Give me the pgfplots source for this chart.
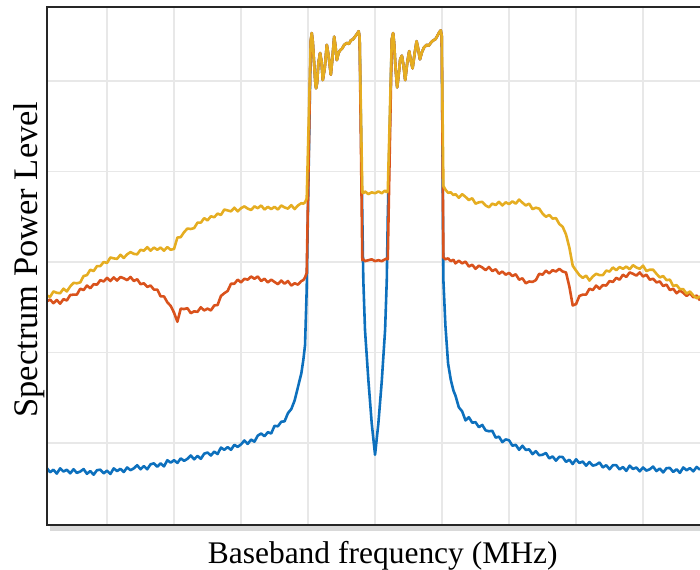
\documentclass[border=0pt]{standalone}
\usepackage{fontspec}
\setmainfont{Liberation Serif}
\usepackage{pgfplots}
\usepackage{pgfplotstable}
\pgfplotsset{compat=1.18}
\definecolor{mblue}{rgb}{0.05,0.44,0.74}
\definecolor{morange}{rgb}{0.85,0.32,0.11}
\definecolor{myellow}{rgb}{0.90,0.68,0.13}
\pgfplotstableread{
x b o yl
-49 -72.75 -54.35 -53.7
-48.5 -73.23 -54.15 -53.85
-48 -72.95 -54.55 -53.25
-47.5 -73.38 -54.2 -53.4
-47 -72.8 -54.6 -53.45
-46.5 -73.15 -54.1 -52.95
-46 -72.95 -54.25 -53.25
-45.5 -73.35 -53.65 -52.7
-45 -72.9 -53.6 -52.3
-44.5 -73.3 -53.6 -52.35
-44 -73.15 -52.95 -52.25
-43.5 -72.88 -53.1 -51.55
-43 -73.4 -52.6 -51.45
-42.5 -73.1 -52.9 -50.85
-42 -73.5 -52.45 -51.0
-41.5 -73.0 -52.5 -50.45
-41 -72.95 -52.0 -50.45
-40.5 -73.35 -52.15 -50.0
-40 -73.05 -51.75 -50.1
-39.5 -73.42 -52.1 -49.5
-39 -72.8 -51.7 -49.6
-38.5 -73.1 -52.05 -49.65
-38 -72.85 -51.65 -49.2
-37.5 -73.2 -51.8 -49.55
-37 -72.7 -52.0 -49.15
-36.5 -73.0 -51.65 -48.9
-36 -72.8 -52.1 -49.1
-35.5 -72.45 -51.9 -49.15
-35 -72.9 -52.45 -48.65
-34.5 -72.55 -52.35 -48.75
-34 -72.9 -52.75 -48.35
-33.5 -72.35 -52.6 -48.75
-33 -72.25 -53.05 -48.4
-32.5 -72.62 -53.05 -48.65
-32 -72.25 -53.8 -48.4
-31.5 -72.58 -53.8 -48.75
-31 -71.9 -54.45 -48.35
-30.5 -72.17 -54.85 -48.65
-30 -71.9 -55.6 -48.55
-29.5 -72.2 -56.6 -47.3
-29 -71.7 -55.15 -47.25
-28.5 -71.97 -55.2 -46.7
-28 -71.75 -55.1 -46.3
-27.5 -71.38 -55.65 -46.35
-27 -71.8 -55.45 -46.25
-26.5 -71.42 -55.5 -45.65
-26 -71.75 -55.0 -45.65
-25.5 -71.18 -55.35 -45.15
-25 -71.05 -55.15 -45.4
-24.5 -71.38 -55.35 -44.95
-24 -70.95 -54.8 -45.05
-23.5 -71.22 -54.75 -44.65
-23 -70.5 -53.75 -44.8
-22.5 -70.75 -53.45 -44.2
-22 -70.45 -53.2 -44.3
-21.5 -70.75 -52.4 -44.4
-21 -70.2 -52.4 -44.0
-20.5 -70.43 -51.95 -44.4
-20 -70.15 -52.25 -44.05
-19.5 -69.72 -51.85 -43.85
-19 -70.1 -51.95 -44.1
-18.5 -69.62 -51.6 -44.25
-18 -69.85 -51.85 -43.85
-17.5 -69.18 -51.6 -44.05
-17 -68.95 -52.1 -43.75
-16.5 -69.25 -51.85 -44.2
-16 -68.8 -52.25 -43.9
-15.5 -68.95 -51.95 -44.15
-15 -68.1 -52.2 -43.9
-14.5 -68.15 -52.45 -44.2
-14 -67.65 -52.05 -43.75
-13.5 -67.6 -52.4 -43.97
-13 -66.7 -52.1 -44.1
-12.5 -66.25 -52.6 -43.72
-12 -65.3 -52.35 -44.15
-11.5 -63.8 -52.5 -43.75
-11.0 -62.3 -52.1 -43.5
-10.7 -60.8 -52.0 -43.55
-10.45 -59.2 -51.7 -43.4
-10.2 -53.0 -51.2 -43.0
-9.6 -25.6 -25.6 -25.6
-9.45 -24.7 -24.7 -24.7
-9.3 -25.6 -25.6 -25.6
-9.1 -28.0 -28.0 -28.0
-8.9 -30.3 -30.3 -30.3
-8.8 -30.8 -30.8 -30.8
-8.65 -30.2 -30.2 -30.2
-8.45 -28.0 -28.0 -28.0
-8.2 -26.9 -26.9 -26.9
-8.0 -27.8 -27.8 -27.8
-7.8 -29.9 -29.9 -29.9
-7.5 -28.5 -28.5 -28.5
-7.2 -26.0 -26.0 -26.0
-6.9 -27.4 -27.4 -27.4
-6.6 -29.3 -29.3 -29.3
-6.35 -27.4 -27.4 -27.4
-6.1 -25.1 -25.1 -25.1
-5.9 -26.2 -26.2 -26.2
-5.7 -27.7 -27.7 -27.7
-5.45 -26.9 -26.9 -26.9
-5.2 -26.6 -26.6 -26.6
-4.9 -26.4 -26.4 -26.4
-4.6 -26.0 -26.0 -26.0
-4.2 -25.8 -25.8 -25.8
-3.9 -25.9 -25.9 -25.9
-3.6 -25.5 -25.5 -25.5
-3.3 -25.4 -25.4 -25.4
-2.9 -25.0 -25.0 -25.0
-2.6 -24.7 -24.7 -24.7
-2.45 -24.5 -24.5 -24.5
-2.3 -25.2 -25.2 -25.2
-1.9 -45.0 -49.8 -42.3
-1.75 -52.0 -49.7 -42.4
-1.5 -57.5 -49.9 -42.2
-1.0 -63.0 -49.8 -42.5
-0.5 -67.8 -49.7 -42.3
0 -71.3 -49.9 -42.4
0.5 -67.8 -49.8 -42.2
1.0 -63.2 -49.9 -42.4
1.5 -57.5 -49.7 -42.1
1.75 -52.0 -49.6 -42.3
1.9 -45.0 -49.7 -42.2
2.5 -25.4 -25.4 -25.4
2.7 -24.7 -24.7 -24.7
2.85 -25.8 -25.8 -25.8
3.05 -28.5 -28.5 -28.5
3.3 -30.7 -30.7 -30.7
3.5 -29.5 -29.5 -29.5
3.75 -27.6 -27.6 -27.6
4.0 -27.2 -27.2 -27.2
4.25 -28.3 -28.3 -28.3
4.5 -29.9 -29.9 -29.9
4.8 -28.0 -28.0 -28.0
5.1 -26.7 -26.7 -26.7
5.35 -27.8 -27.8 -27.8
5.6 -28.6 -28.6 -28.6
5.9 -27.0 -27.0 -27.0
6.2 -25.6 -25.6 -25.6
6.45 -26.5 -26.5 -26.5
6.7 -27.6 -27.6 -27.6
7.0 -26.8 -26.8 -26.8
7.3 -26.3 -26.3 -26.3
7.7 -26.0 -26.0 -26.0
8.0 -26.1 -26.1 -26.1
8.4 -25.7 -25.7 -25.7
8.7 -25.5 -25.5 -25.5
9.0 -25.4 -25.4 -25.4
9.3 -25.0 -25.0 -25.0
9.6 -24.6 -24.6 -24.6
9.8 -24.4 -24.4 -24.4
9.95 -25.0 -25.0 -25.0
10.2 -52.0 -49.5 -41.6
10.5 -57.0 -49.7 -42.0
10.9 -61.2 -49.6 -42.35
11.3 -63.0 -49.9 -42.3
11.7 -64.2 -49.75 -42.6
12.0 -64.75 -50.15 -42.5
12.5 -66.05 -49.85 -42.9
13.0 -66.5 -50.15 -42.5
13.5 -67.5 -49.95 -42.8
14.0 -67.15 -50.5 -43.15
14.5 -67.75 -50.3 -42.95
15.0 -67.7 -50.75 -43.55
15.5 -68.25 -50.4 -43.4
16.0 -68.0 -50.6 -43.35
16.5 -68.6 -50.9 -43.75
17.0 -68.7 -50.55 -43.95
17.5 -68.65 -51.0 -43.55
18.0 -69.4 -50.8 -43.7
18.5 -69.3 -51.3 -43.35
19.0 -69.9 -51.05 -43.75
19.5 -69.6 -51.4 -43.4
20.0 -69.7 -51.2 -43.6
20.5 -70.3 -51.55 -43.3
21.0 -70.2 -51.35 -43.55
21.5 -70.75 -51.95 -43.1
22.0 -70.3 -51.8 -43.45
22.5 -70.77 -52.35 -43.75
23.0 -70.7 -52.15 -43.55
23.5 -71.23 -52.2 -44.15
24.0 -70.9 -52.0 -44.0
24.5 -71.35 -51.3 -44.1
25.0 -71.3 -51.4 -44.65
25.5 -71.1 -50.95 -45.0
26.0 -71.7 -51.25 -44.8
26.5 -71.48 -50.9 -45.2
27.0 -71.95 -51.05 -45.15
27.5 -71.52 -50.75 -45.8
28.0 -71.55 -51.05 -46.1
28.5 -72.08 -51.15 -46.95
29.0 -71.85 -52.7 -48.4
29.5 -72.32 -54.8 -50.4
30.0 -71.8 -54.65 -50.95
30.5 -72.2 -53.75 -51.45
31.0 -72.05 -53.6 -51.75
31.5 -72.5 -53.6 -51.5
32.0 -72.1 -52.95 -52.05
32.5 -72.5 -53.1 -51.6
33.0 -72.4 -52.6 -51.3
33.5 -72.15 -52.95 -51.45
34.0 -72.7 -52.55 -51.45
34.5 -72.45 -52.6 -50.95
35.0 -72.9 -52.1 -51.05
35.5 -72.45 -52.2 -50.6
36.0 -72.45 -51.75 -50.9
36.5 -72.92 -51.95 -50.55
37.0 -72.65 -51.4 -50.75
37.5 -73.08 -51.65 -50.5
38.0 -72.5 -51.15 -50.8
38.5 -72.87 -51.3 -50.35
39.0 -72.7 -51.5 -50.6
39.5 -73.13 -51.15 -50.75
40.0 -72.7 -51.6 -50.4
40.5 -73.05 -51.4 -51.0
41.0 -72.9 -51.95 -50.85
41.5 -72.6 -51.85 -50.85
42.0 -73.1 -52.25 -51.3
42.5 -72.82 -52.15 -51.7
43.0 -73.25 -52.65 -51.55
43.5 -72.78 -52.5 -52.0
44.0 -72.75 -53.1 -51.95
44.5 -73.2 -52.95 -52.65
45.0 -72.9 -53.45 -52.55
45.5 -73.3 -53.15 -53.0
46.0 -72.7 -53.4 -53.0
46.5 -73.01 -53.75 -53.5
47.0 -72.77 -53.45 -53.25
47.5 -73.13 -53.9 -53.7
48.0 -72.64 -53.7 -54.0
48.5 -72.95 -54.25 -53.8
}\spectrum
\begin{document}
\begin{tikzpicture}
\begin{axis}[
  name=ax,
  scale only axis,
  width=326.5bp, height=259bp,
  xmin=-48.96, xmax=48.5,
  ymin=-79.06, ymax=-21.82,
  xtick={-40,-30,...,40},
  ytick={-70,-60,...,-30},
  xticklabels={}, yticklabels={},
  major tick length=0pt,
  grid=major,
  grid style={line width=0.7bp, color=black!9},
  axis line style={draw=none},
  xlabel={Baseband frequency (MHz)},
  ylabel={Spectrum Power Level},
  xlabel style={at={([yshift=-19bp]axis description cs:0.514,0)}, anchor=base,
    font=\fontsize{15.8}{19}\selectfont},
  ylabel style={at={([xshift=-4.75bp]axis description cs:0,0.5125)}, anchor=base,
    font=\fontsize{17.3}{20}\selectfont},
  every axis plot/.append style={line width=1.3pt, line join=round},
]
\addplot[mblue] table[x=x, y=b] {\spectrum};
\addplot[morange] table[x=x, y=o] {\spectrum};
\addplot[myellow] table[x=x, y=yl] {\spectrum};
\coordinate (SW) at (rel axis cs:0,0);
\coordinate (NE) at (rel axis cs:1,1);
\coordinate (NW) at (rel axis cs:0,1);
\coordinate (SE) at (rel axis cs:1,0);
\end{axis}
\draw[black!15, line width=2.5bp] ([shift={(1.5bp,-1.8bp)}]SW) -- ([shift={(0,-1.8bp)}]SE);
\draw[black!85, line width=0.9bp] (NE) -- (NW) -- (SW) -- (SE);
\pgfresetboundingbox
\path[use as bounding box] ([shift={(-23.5bp,-22bp)}]SW) rectangle ([shift={(0bp,3.5bp)}]NE);
\end{tikzpicture}
\end{document}
